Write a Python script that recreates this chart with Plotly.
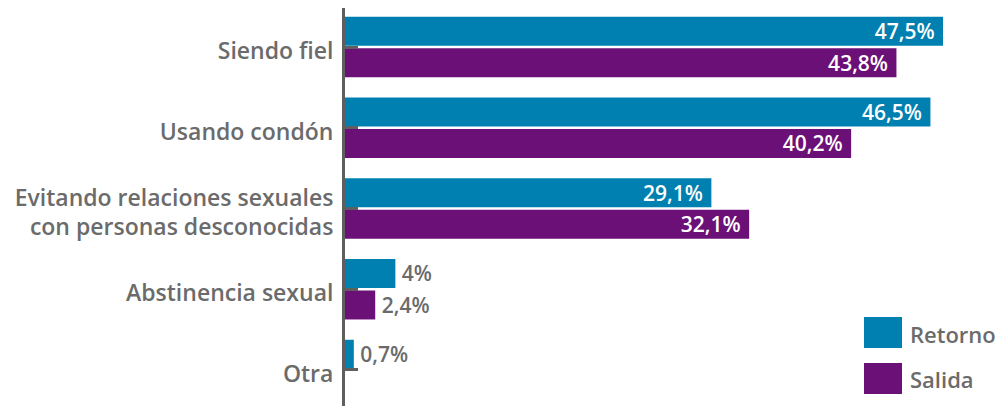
import plotly.graph_objects as go

categories = ["Siendo fiel", "Usando condón", "Evitando relaciones sexuales<br>con personas desconocidas", "Abstinencia sexual", "Otra"]
retorno = [47.5, 46.5, 29.1, 4, 0.7]
salida = [43.8, 40.2, 32.1, 2.4, None]
series_names = ["Retorno", "Salida"]
colors = ["#0080b0", "#6b1077"]

NB = "\u00a0"
TS = "\u2009"
FONT = "Open Sans"
GRAY = "#6b6b6b"
WT = 600

def fmt(v):
    return f"{v:g}".replace(".", ",") + "%"

def texts(vals):
    out = []
    for v in vals:
        if v is None:
            out.append("")
        elif v >= 10:
            out.append(fmt(v) + NB)
        else:
            out.append(TS + fmt(v))
    return out

def positions(vals):
    return ["inside" if (v is not None and v >= 10) else "outside" for v in vals]

fig = go.Figure()
for name, vals, col in zip(series_names, [retorno, salida], colors):
    fig.add_trace(go.Bar(
        y=categories, x=vals, name=name, orientation="h",
        marker=dict(color=col, line=dict(width=0)),
        text=texts(vals), textposition=positions(vals),
        insidetextanchor="end", textangle=0, constraintext="none",
        insidetextfont=dict(color="white", size=21, family=FONT, weight=WT),
        outsidetextfont=dict(color=GRAY, size=21, family=FONT, weight=WT),
        cliponaxis=False, showlegend=False,
    ))

W, H = 1003, 406
OFF = 8  # page offset of the figure
L, R, T, B = 337, 24, 0, 8
pw, ph = W - L - R, H - T - B

def px(x):
    return (x - OFF - L) / pw

def py(y):
    return (H - B - (y - OFF)) / ph

shapes = []
annotations = []
leg = [("Retorno", colors[0], 317, 348, 334), ("Salida", colors[1], 363, 394, 379)]
for name, col, y0, y1, yc in leg:
    shapes.append(dict(type="rect", xref="paper", yref="paper",
                       x0=px(864), x1=px(902), y0=py(y1), y1=py(y0),
                       fillcolor=col, line=dict(width=0)))
    annotations.append(dict(xref="paper", yref="paper", x=px(908), y=py(yc),
                            text=name, showarrow=False, xanchor="left", yanchor="middle",
                            font=dict(size=22, color=GRAY, family=FONT, weight=WT)))

fig.update_layout(
    width=W, height=H,
    margin=dict(l=L, r=R, t=T, b=B),
    paper_bgcolor="white", plot_bgcolor="white",
    barmode="group", bargap=0.22, bargroupgap=0.08,
    font=dict(family=FONT, color=GRAY, size=21),
    xaxis=dict(range=[0, pw / 12.59], visible=False),
    yaxis=dict(categoryorder="array", categoryarray=categories,
               range=[4.446, -0.483], showline=True, linewidth=3, linecolor="#5f5f5f",
               ticks="inside", ticklen=13, tickwidth=3, tickcolor="#5f5f5f",
               showgrid=False, zeroline=False, ticklabelstandoff=4, ticklabelshift=-4,
               tickfont=dict(size=23, color=GRAY, family=FONT, weight=WT)),
    shapes=shapes, annotations=annotations,
)

fig.write_html("out.html")
